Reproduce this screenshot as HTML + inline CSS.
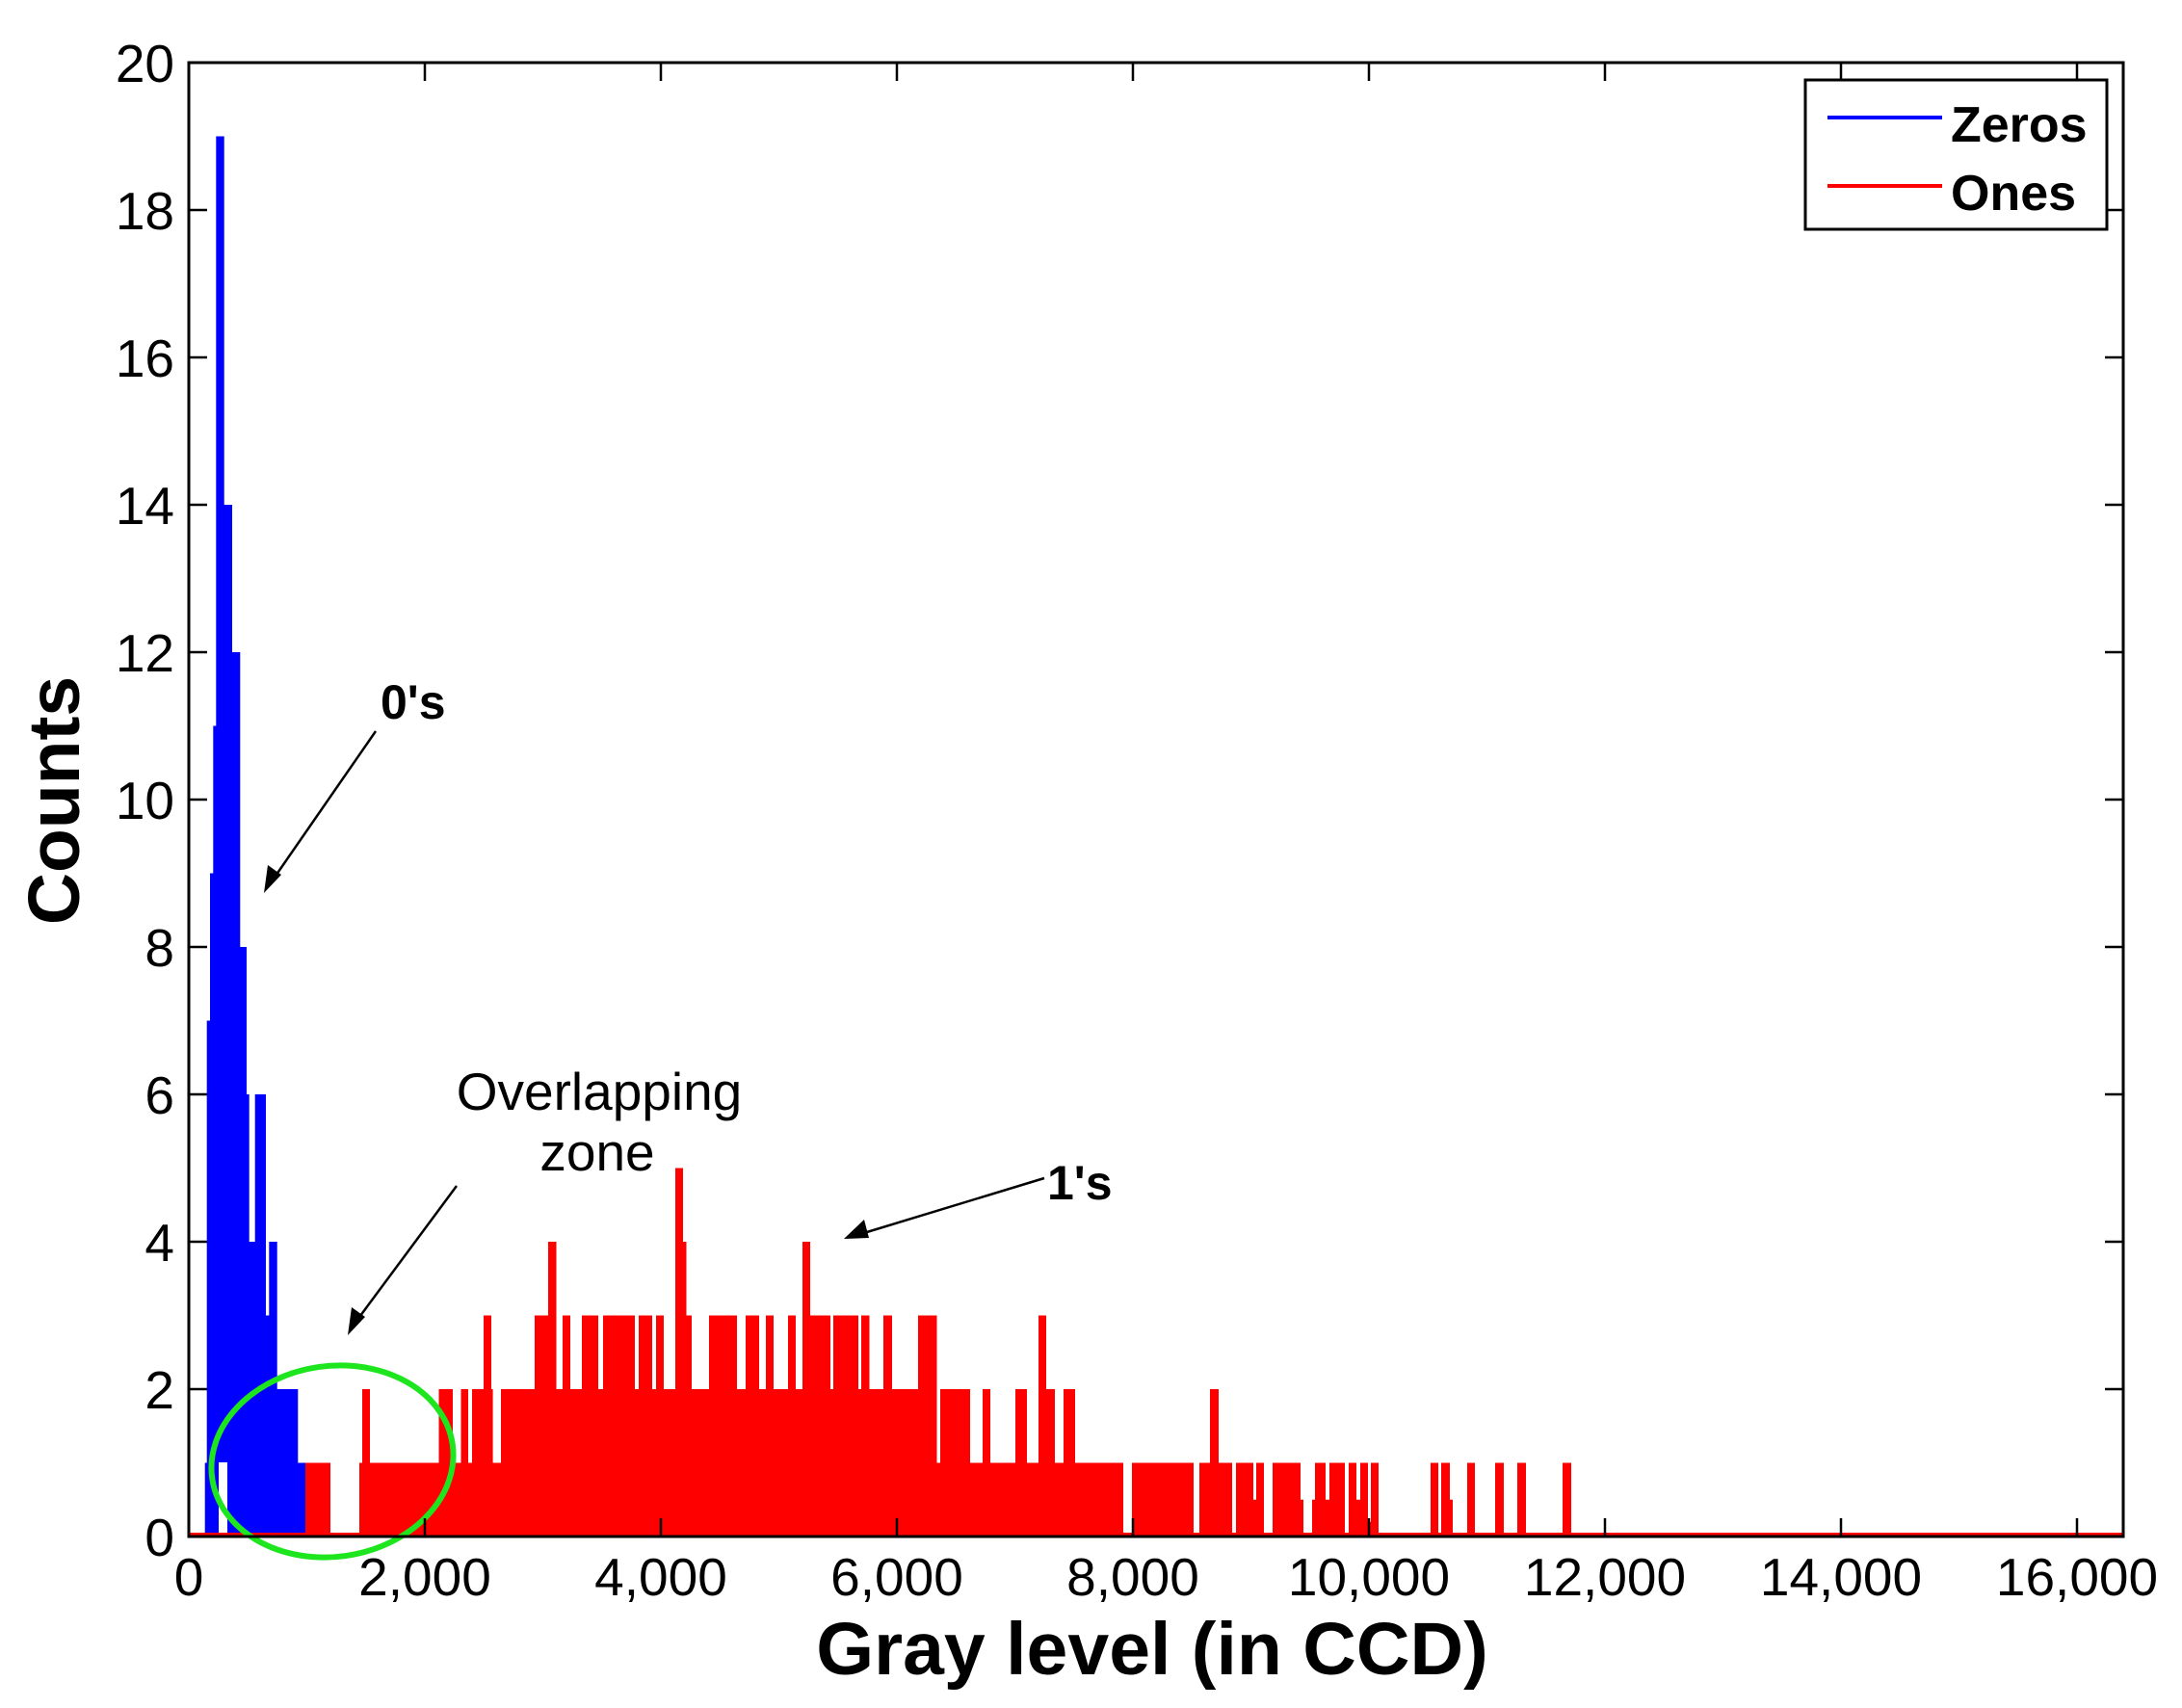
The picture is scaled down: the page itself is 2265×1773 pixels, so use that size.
<!DOCTYPE html>
<html><head><meta charset="utf-8"><style>
html,body{margin:0;padding:0;background:#fff;}
svg{display:block;}
text{font-family:"Liberation Sans",Arial,sans-serif;}
</style></head><body>
<svg id="s" width="2265" height="1773" viewBox="0 0 2265 1773" xmlns="http://www.w3.org/2000/svg">
<rect width="2265" height="1773" fill="#fff"/>
<path id="blue" fill="#0000ff" d=""/>
<rect x="227" y="1518" width="9" height="77" fill="#fff"/>
<path id="red" fill="#ff0000" d=""/>
<line x1="196" y1="1593" x2="2204" y2="1593" stroke="#ff0000" stroke-width="4"/>
<ellipse cx="345" cy="1517" rx="126" ry="99" fill="none" stroke="#1ee61e" stroke-width="6" transform="rotate(-8 345 1517)"/>
<g id="axes" stroke="#000" stroke-width="3" fill="none">
<rect x="196" y="65" width="2008" height="1530"/>
</g>
<g id="ticks" stroke="#000" stroke-width="2.5"></g>
<g id="labels" font-size="55" fill="#000"></g>
<text x="1196" y="1738" font-size="77" font-weight="bold" text-anchor="middle">Gray level (in CCD)</text>
<text transform="translate(82 831) rotate(-90)" font-size="75" font-weight="bold" text-anchor="middle">Counts</text>
<text x="395" y="746" font-size="50" font-weight="bold">0's</text>
<text x="1087" y="1245" font-size="50" font-weight="bold">1's</text>
<text x="622" y="1152" font-size="55" text-anchor="middle">Overlapping</text>
<text x="620" y="1215" font-size="55" text-anchor="middle">zone</text>
<g stroke="#000" stroke-width="2.5">
<line x1="390" y1="759" x2="282" y2="915"/>
<line x1="474" y1="1231" x2="368" y2="1374"/>
<line x1="1084" y1="1223" x2="890" y2="1282"/>
</g>
<g fill="#000">
<polygon points="274,927 278,898 292,908"/>
<polygon points="361,1386 365,1357 379,1367"/>
<polygon points="876,1286 897,1266 902,1285"/>
</g>
<rect x="1874" y="83" width="313" height="155" fill="#fff" stroke="#000" stroke-width="3"/>
<line x1="1897" y1="122" x2="2016" y2="122" stroke="#0000ff" stroke-width="4"/>
<line x1="1897" y1="193" x2="2016" y2="193" stroke="#ff0000" stroke-width="4"/>
<text x="2025" y="147" font-size="52" font-weight="bold">Zeros</text>
<text x="2025" y="218" font-size="52" font-weight="bold">Ones</text>
</svg>
<script>
var B=1595,U=76.5;
function path(st){var d="M"+st[0][0]+","+B;st.forEach(function(s){var y=B-s[2]*U;d+=" L"+s[0]+","+y+" L"+s[1]+","+y;});d+=" L"+st[st.length-1][1]+","+B+" Z";return d;}
var blue=[[212.7,214.7,1],[214.7,218,7],[218,221.3,9],[221.3,224.3,11],[224.3,232.7,19],[232.7,241,14],[241,249.3,12],[249.3,256,8],[256,258.7,6],[258.7,264.7,4],[264.7,276,6],[276,279.3,3],[279.3,287.7,4],[287.7,309.3,2],[309.3,317,1],[317,340,1],[340,343,1]];
var r=[[317,343,1],[343,373,0],[373,376,1],[376,384,2],[384,455.5,1],[455.5,470,2],[470,478.5,1],[478.5,486,2],[486,490,1],[490,502,2],[502,510,3],[510,511.6,2],[511.6,520,1],[520,555,2],[555,569,3],[569,577.5,4],[577.5,584,2],[584,592,3],[592,604,2],[604,621,3],[621,626,2],[626,659,3],[659,663,2],[663,677,3],[677,681,2],[681,689,3],[689,701,2],[701,709,5],[709,712.5,4],[712.5,718,3],[718,736,2],[736,765,3],[765,774,2],[774,788,3],[788,795,2],[795,803,3],[803,818,2],[818,826,3],[826,833,2],[833,841,4],[841,862,3],[862,865,2],[865,891,3],[891,894,2],[894,902.5,3],[902.5,917,2],[917,926,3],[926,953,2],[953,972.5,3],[972.5,976,1],[976,1007,2],[1007,1020,1],[1020,1028,2],[1028,1054,1],[1054,1066,2],[1066,1078,1],[1078,1086,3],[1086,1095,2],[1095,1104,1],[1104,1116,2],[1116,1166,1],[1166,1175,0],[1175,1239,1],[1239,1245,0],[1245,1256,1],[1256,1265,2],[1265,1279,1],[1279,1283,0],[1283,1301,1],[1301,1304,0.5],[1304,1312,1],[1312,1321,0],[1321,1350,1],[1350,1353,0.5],[1353,1362,0],[1362,1365,0.5],[1365,1376,1],[1376,1380,0.5],[1380,1396,1],[1396,1400,0],[1400,1408,1],[1408,1412,0.5],[1412,1420,1],[1420,1423,0.2],[1423,1431,1],[1431,1485,0],[1485,1493,1],[1493,1496,0],[1496,1505,1],[1505,1508,0.5],[1508,1523,0],[1523,1531,1],[1531,1552,0],[1552,1561,1],[1561,1575,0],[1575,1584,1],[1584,1622,0],[1622,1631,1]];
document.getElementById("blue").setAttribute("d",path(blue));
document.getElementById("red").setAttribute("d",path(r));
var tk=document.getElementById("ticks"),lb=document.getElementById("labels"),ns="http://www.w3.org/2000/svg";
function ln(a,b,c,d){var l=document.createElementNS(ns,"line");l.setAttribute("x1",a);l.setAttribute("y1",b);l.setAttribute("x2",c);l.setAttribute("y2",d);tk.appendChild(l);}
function tx(x,y,t,anc){var e=document.createElementNS(ns,"text");e.setAttribute("x",x);e.setAttribute("y",y);e.setAttribute("text-anchor",anc);e.textContent=t;lb.appendChild(e);}
for(var i=0;i<=10;i++){var y=B-i*2*U;if(i>0&&i<10){ln(196,y,215,y);ln(2204,y,2185,y);}tx(181,y+20,String(i*2),"end");}
var lab=["0","2,000","4,000","6,000","8,000","10,000","12,000","14,000","16,000"];
for(var j=0;j<=8;j++){var x=196+j*245;if(j>0){ln(x,1595,x,1576);ln(x,65,x,84);}tx(x,1656,lab[j],"middle");}
</script>
</body></html>
